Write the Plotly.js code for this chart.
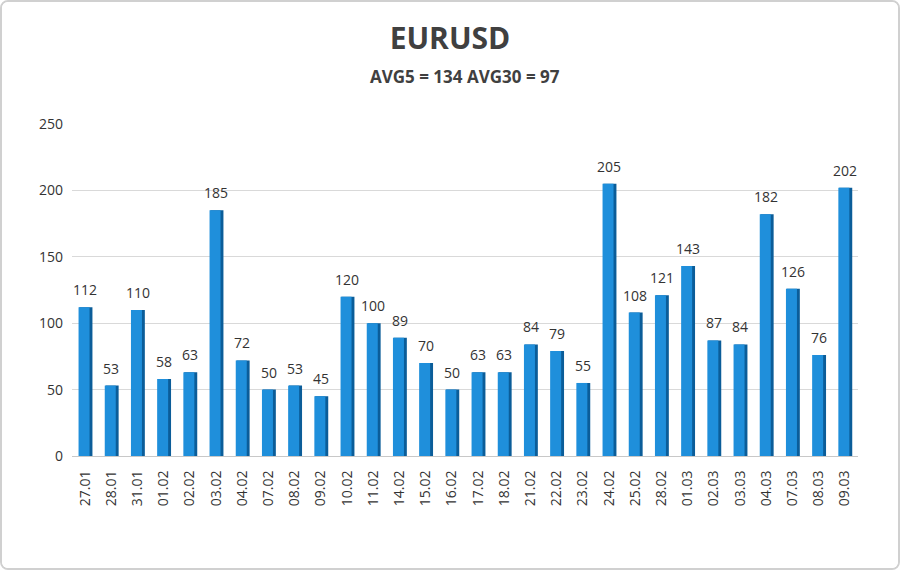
<!DOCTYPE html>
<html><head><meta charset="utf-8">
<script src="https://cdn.plot.ly/plotly-3.0.1.min.js"></script>
<style>html,body{margin:0;padding:0;background:#fff;}#chart{width:900px;height:570px;box-sizing:border-box;border:2px solid #d0d0d0;border-radius:8px;overflow:hidden;}</style>
</head><body><div id="chart"></div>
<script>
const categories = ["27.01","28.01","31.01","01.02","02.02","03.02","04.02","07.02","08.02","09.02","10.02","11.02","14.02","15.02","16.02","17.02","18.02","21.02","22.02","23.02","24.02","25.02","28.02","01.03","02.03","03.03","04.03","07.03","08.03","09.03"];
const values = [112,53,110,58,63,185,72,50,53,45,120,100,89,70,50,63,63,84,79,55,205,108,121,143,87,84,182,126,76,202];
const titleText = "EURUSD";
const subtitleText = "AVG5 = 134 AVG30 = 97";
const yTicks = [0,50,100,150,200,250];

const side = {type:'bar', x:categories, y:values, width:0.5, offset:-0.22,
  marker:{color:'#0b5d99', line:{width:0}}, hoverinfo:'skip', showlegend:false};
const front = {type:'bar', x:categories, y:values, width:0.42, offset:-0.25,
  marker:{color:'#1f8fdb', line:{width:0}}, showlegend:false};

const labelAnns = categories.map((c,i)=>({x:i, y:values[i], xref:'x', yref:'y', text:String(values[i]),
  showarrow:false, yanchor:'bottom', xanchor:'center', yshift:6, xshift:0,
  font:{family:'Open Sans, Arial, sans-serif', size:14, color:'#333'}}));

const layout = {
  width:896, height:566,
  margin:{l:70, r:40, t:122, b:112},
  paper_bgcolor:'#fff', plot_bgcolor:'#fff',
  barmode:'overlay',
  title:{text:'<b>'+titleText+'</b>', x:0.5, xanchor:'center', y:0.935, yanchor:'middle',
    font:{family:'Open Sans, Arial, sans-serif', size:30, color:'#404040'}},
  annotations:[{text:'<b>'+subtitleText+'</b>', xref:'paper', yref:'paper', x:0.5, y:1, yshift:48,
    showarrow:false, xanchor:'center', yanchor:'middle', font:{family:'Open Sans, Arial, sans-serif', size:17, color:'#404040'}}].concat(labelAnns),
  xaxis:{type:'category', range:[-0.5, categories.length-0.5], autorange:false, tickangle:-90, tickfont:{family:'Open Sans, Arial, sans-serif', size:14, color:'#333'},
    showline:true, linecolor:'#c8c8c8', ticks:'', showgrid:false, ticklabelstandoff:8},
  yaxis:{range:[0,250], autorange:false, tickvals:yTicks, tickfont:{family:'Open Sans, Arial, sans-serif', size:14, color:'#333'},
    gridcolor:'#d9d9d9', zeroline:false, showline:false, ticks:'', ticklen:0, ticklabelstandoff:8},
  font:{family:'Open Sans, Arial, sans-serif'}
};
Plotly.newPlot('chart',[side,front],layout,{displayModeBar:false,staticPlot:true});
</script></body></html>
